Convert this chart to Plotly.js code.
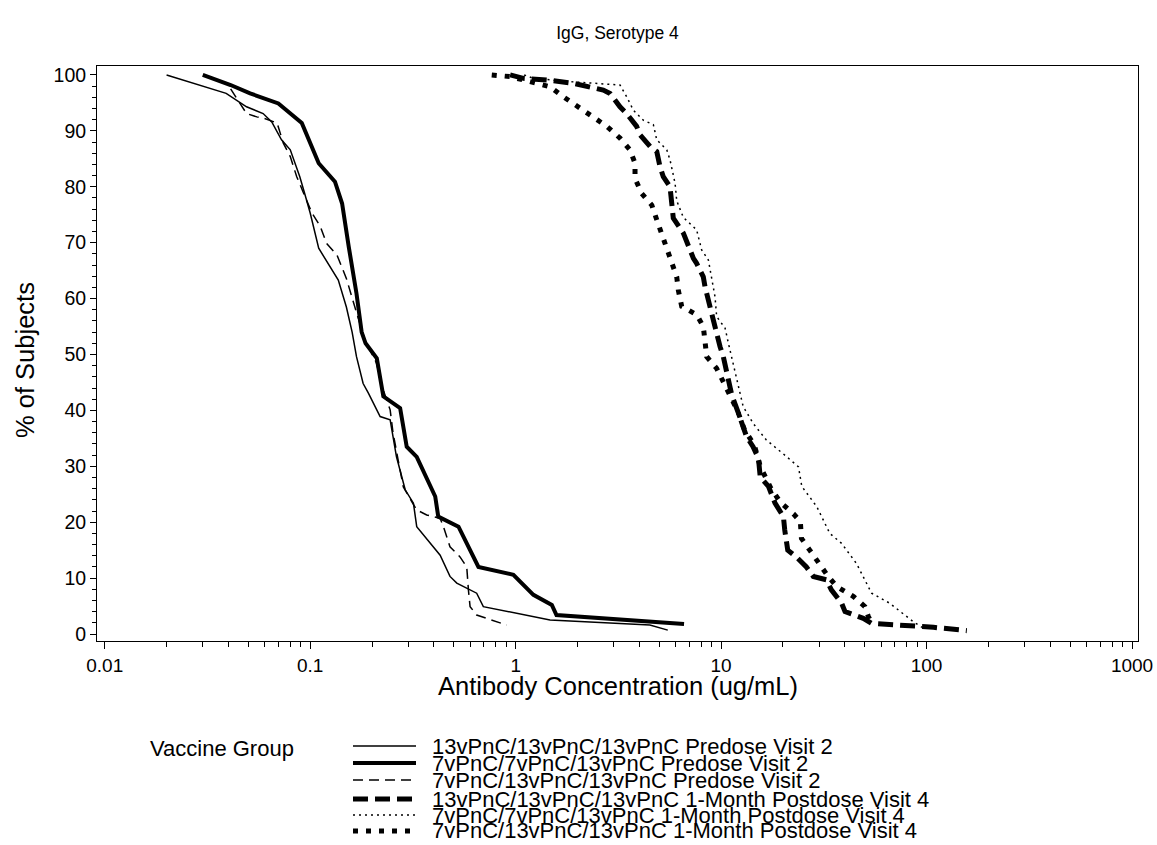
<!DOCTYPE html>
<html>
<head>
<meta charset="utf-8">
<script src="https://cdn.plot.ly/plotly-3.0.1.min.js"></script>
<style>html,body{margin:0;padding:0;background:#fff;}#chart{width:1157px;height:845px;}</style>
</head>
<body>
<div id="chart"></div>
<script>
// ---- Data ----
const seriesNames = [
  "13vPnC/13vPnC/13vPnC Predose Visit 2",
  "7vPnC/7vPnC/13vPnC Predose Visit 2",
  "7vPnC/13vPnC/13vPnC Predose Visit 2",
  "13vPnC/13vPnC/13vPnC 1-Month Postdose Visit 4",
  "7vPnC/7vPnC/13vPnC 1-Month Postdose Visit 4",
  "7vPnC/13vPnC/13vPnC 1-Month Postdose Visit 4"
];

const s1x = [0.020,0.029,0.039,0.049,0.059,0.065,0.0725,0.080,0.089,0.094,0.100,0.110,0.137,0.150,0.160,0.168,0.181,0.192,0.219,0.245,0.263,0.290,0.318,0.330,0.383,0.429,0.479,0.517,0.646,0.696,1.47,4.5,5.5];
const s1y = [100,98.2,96.7,94.3,93.1,91.6,88.4,86.6,81.8,78.8,75.3,69.0,63.3,58.5,54.0,49.6,44.8,43.1,38.9,38.3,31.7,25.8,23.4,19.2,16.2,14.1,10.3,9.1,7.3,4.9,2.5,1.6,0.7];

const s2x = [0.030,0.041,0.051,0.070,0.091,0.110,0.132,0.143,0.154,0.168,0.178,0.186,0.211,0.227,0.274,0.295,0.330,0.406,0.420,0.527,0.659,0.975,1.22,1.50,1.58,6.6];
const s2y = [100,98.2,96.7,94.9,91.4,84.2,80.9,77.0,69.3,60.9,54.0,52.0,49.3,42.5,40.4,33.5,31.7,24.6,21.0,19.2,12.0,10.6,7.0,5.2,3.4,1.8];

const s3x = [0.041,0.049,0.055,0.060,0.069,0.074,0.080,0.086,0.093,0.102,0.112,0.120,0.135,0.150,0.168,0.185,0.21,0.225,0.245,0.253,0.268,0.284,0.312,0.330,0.369,0.429,0.445,0.479,0.536,0.578,0.589,0.600,0.646,0.905];
const s3y = [97.5,93.1,92.5,92.2,91.4,87.8,85.4,81.8,78.8,75.3,72.9,69.9,67.8,63.6,57.5,52.5,48.5,44.0,40.1,36.0,31.1,26.3,23.7,22.2,21.3,20.7,19.2,15.6,13.8,12.0,7.9,4.9,3.4,1.6];

const s4x = [0.94,1.09,1.42,1.91,2.67,2.88,3.22,3.47,3.88,4.03,4.51,4.86,5.04,5.23,5.64,5.75,5.85,6.55,6.79,7.33,7.6,8.19,8.35,8.67,8.82,9.16,9.34,9.88,10.25,10.65,11.26,12.14,12.6,13.3,14.3,15.2,15.5,17.0,18.3,20.1,20.4,21.1,23.2,26.0,28.1,32.5,34.4,38.6,40.1,49.2,54.0,63,77,90,108,125,157];
const s4y = [100,99.4,99.1,98.5,97.3,96.7,94.3,93.1,90.8,89.3,87.2,86.3,83.6,81.8,80.0,77.6,74.4,71.7,70.2,67.2,66.3,63.9,62.1,59.7,58.3,55.6,54.1,51.4,49.6,46.6,42.8,39.5,38.0,35.3,33.5,31.4,28.1,26.4,23.4,21.0,18.6,15.0,13.8,12.0,10.3,9.7,7.9,5.5,4.0,2.8,1.9,1.8,1.7,1.4,1.2,1.0,0.6];

const s5x = [1.1,1.22,1.84,2.48,3.22,3.47,3.74,4.18,4.68,4.86,5.44,5.64,5.97,6.08,6.55,7.6,8.04,8.67,8.99,9.34,9.51,10.46,10.85,11.43,12.14,12.8,14.3,16.6,20.1,23.8,24.7,29.2,33.8,38.6,45.6,54.0,66.2,86.1,95];
const s5y = [100,99.4,98.8,98.5,98.2,96.1,93.7,91.9,91.1,88.4,86.6,84.8,80.6,77.5,74.5,72.3,68.7,66.9,63.9,60.3,56.8,54.7,52.0,48.4,44.2,40.7,37.7,34.7,32.2,29.9,26.4,22.8,18.0,16.2,12.6,7.3,5.5,2.2,1.2];

const s6x = [0.765,0.94,1.175,1.47,1.706,2.02,2.39,2.78,3.22,3.60,3.81,3.81,4.11,4.60,4.86,5.14,5.44,5.75,6.08,6.19,6.43,7.61,8.19,8.35,8.51,9.51,11.0,12.0,13.0,14.5,15.5,17.5,19.5,22.5,24.3,24.6,27.0,29.9,33.2,36.5,44.1,50.1,52.1,55];
const s6y = [100,99.7,98.8,97.9,96.1,94.3,92.5,90.8,88.7,86.6,84.2,81.5,78.8,76.7,74.1,71.7,69.0,66.6,63.9,61.5,58.6,57.1,55.0,52.3,49.6,47.5,43.1,40.0,36.5,33.8,30.0,26.0,23.5,21.5,20.1,17.1,15.0,12.6,10.3,8.5,6.7,4.9,3.1,1.5];

const xTickVals = [0.01,0.1,1,10,100,1000];
const xTickText = ["0.01","0.1","1","10","100","1000"];
const yTickVals = [0,10,20,30,40,50,60,70,80,90,100];

const chartTitle = "IgG, Serotype 4";
const xTitle = "Antibody Concentration (ug/mL)";
const yTitle = "% of Subjects";
const legendTitle = "Vaccine Group";

// ---- Styles ----
const styles = [
  {width:1.5, dash:"solid"},
  {width:4,   dash:"solid"},
  {width:1.5, dash:"10px,6px"},
  {width:5,   dash:"15px,7px"},
  {width:1.5, dash:"2px,4px"},
  {width:5,   dash:"5px,8px"}
];
const xs = [s1x,s2x,s3x,s4x,s5x,s6x];
const ys = [s1y,s2y,s3y,s4y,s5y,s6y];

const traces = seriesNames.map((n,i)=>({
  type:"scatter", mode:"lines", name:n, x:xs[i], y:ys[i],
  line:{color:"#000", width:styles[i].width, dash:styles[i].dash},
  showlegend:false, hoverinfo:"x+y"
}));

const FONT = "Liberation Sans, Arial, Helvetica, sans-serif";

// minor ticks for log axis
const minorX = [];
for (let e=-2; e<3; e++) for (let k=2; k<10; k++) minorX.push(k*Math.pow(10,e));

// pixel helpers -> paper coords
const L=97, R=1138, T=66, B=641;
const px = v => (v-L)/(R-L);
const py = v => (B-v)/(B-T);
const rowY = [746,763,780,799,815,831];

const annotations = [
  {text:xTitle, xref:"paper", yref:"paper", x:0.5, y:py(686), xanchor:"center", yanchor:"middle",
   showarrow:false, font:{family:FONT,size:25.5,color:"#000"}},
  {text:yTitle, xref:"paper", yref:"paper", x:px(25), y:py(360), xanchor:"center", yanchor:"middle",
   textangle:-90, showarrow:false, font:{family:FONT,size:25.5,color:"#000"}},
  {text:legendTitle, xref:"paper", yref:"paper", x:px(148), y:py(748),
   xanchor:"left", yanchor:"middle", showarrow:false, font:{family:FONT,size:22,color:"#000"}}
];
const shapes = [];
seriesNames.forEach((n,i)=>{
  annotations.push({text:n, xref:"paper", yref:"paper", x:px(430), y:py(rowY[i]),
    xanchor:"left", yanchor:"middle", showarrow:false, font:{family:FONT,size:22,color:"#000"}});
  shapes.push({type:"line", xref:"paper", yref:"paper", x0:px(353), x1:px(416), y0:py(rowY[i]), y1:py(rowY[i]),
    line:{color:"#000", width:styles[i].width, dash:styles[i].dash}});
});

const layout = {
  width:1157, height:845,
  margin:{l:97, r:19, t:66, b:204},
  paper_bgcolor:"#fff", plot_bgcolor:"#fff",
  font:{family:FONT, color:"#000"},
  title:{text:chartTitle, x:0.5, xref:"paper", y:1-33/845, yref:"container", yanchor:"middle",
         font:{family:FONT, size:17.5, color:"#000"}},
  xaxis:{
    type:"log", range:[Math.log10(0.00917), Math.log10(1069)],
    tickmode:"array", tickvals:xTickVals, ticktext:xTickText,
    ticks:"outside", ticklen:7, tickwidth:1, tickcolor:"#000",
    showline:true, linecolor:"#000", linewidth:1, mirror:true,
    showgrid:false, zeroline:false,
    tickfont:{family:FONT, size:19, color:"#000"},
    minor:{tickmode:"array", tickvals:minorX, ticks:"outside", ticklen:5, tickcolor:"#000", showgrid:false}
  },
  yaxis:{
    range:[-1.25, 101.6],
    tickmode:"array", tickvals:yTickVals,
    ticks:"outside", ticklen:6, tickwidth:1, tickcolor:"#000",
    showline:true, linecolor:"#000", linewidth:1, mirror:true,
    showgrid:false, zeroline:false,
    tickfont:{family:FONT, size:19.5, color:"#000"},
    minor:{dtick:2, ticks:"outside", ticklen:4, tickcolor:"#000", showgrid:false}
  },
  annotations:annotations,
  shapes:shapes
};

Plotly.newPlot("chart", traces, layout, {displayModeBar:false, staticPlot:true});
</script>
</body>
</html>
